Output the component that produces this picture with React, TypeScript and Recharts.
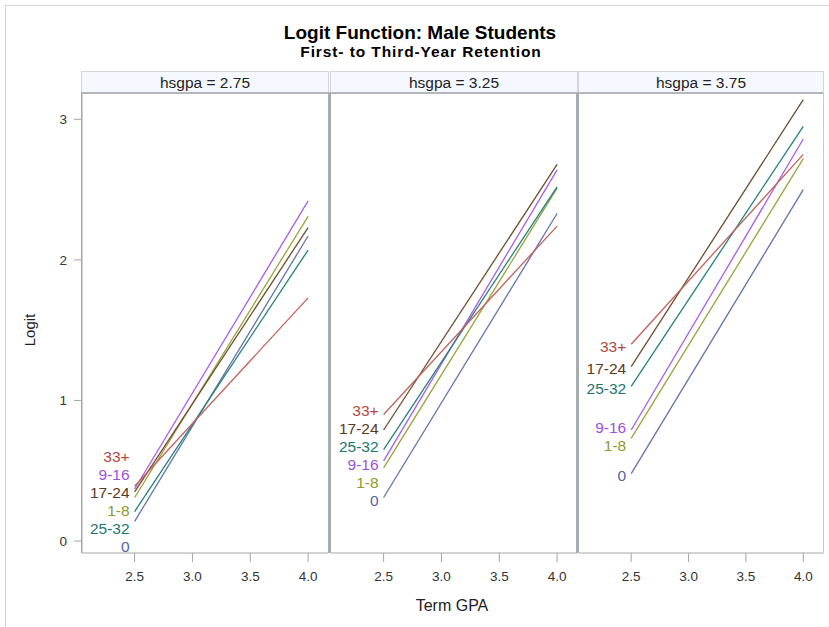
import { ComposedChart, Line, Scatter, XAxis, YAxis } from 'recharts';

// group order: 0, 1-8, 9-16, 17-24, 25-32, 33+
const GROUPS = ['0', '1-8', '9-16', '17-24', '25-32', '33+'];
const LINE_COLORS = ['#6573ad', '#97a33d', '#aa5ce6', '#6e4d2e', '#23807a', '#c2625a'];
const LABEL_COLORS = ['#56659f', '#8c9a2c', '#a04fe0', '#5a3a1c', '#1c7670', '#b4473f'];

const HSGPA = ['2.75', '3.25', '3.75'];
const TERM_GPA = [2.5, 4.0];
const X_TICKS = [2.5, 3.0, 3.5, 4.0];
const Y_TICKS = [0, 1, 2, 3];

const START_275 = [0.14, 0.31, 0.37, 0.35, 0.21, 0.39];
const END_275 = [2.17, 2.31, 2.42, 2.23, 2.07, 1.73];
const START_325 = [0.31, 0.52, 0.57, 0.79, 0.65, 0.9];
const END_325 = [2.33, 2.51, 2.64, 2.68, 2.52, 2.24];
const START_375 = [0.48, 0.73, 0.79, 1.24, 1.1, 1.4];
const END_375 = [2.5, 2.72, 2.86, 3.14, 2.95, 2.75];

const PANELS = [
  { hsgpa: HSGPA[0], start: START_275, end: END_275 },
  { hsgpa: HSGPA[1], start: START_325, end: END_325 },
  { hsgpa: HSGPA[2], start: START_375, end: END_375 },
];

const X_DOMAIN: [number, number] = [2.045, 4.172];
const Y_DOMAIN: [number, number] = [-0.085, 3.187];
const PX_PER_UNIT = 140.5;
const LABEL_GAP = 18 / PX_PER_UNIT;

const FONT = '"Liberation Sans", Arial, sans-serif';

// spread overlapping start labels apart, each cluster centred on its mean
function spreadLabels(values: number[]) {
  const order = values.map((v, i) => i).sort((a, b) => values[b] - values[a]);
  let clusters = order.map((i) => ({ ids: [i], mean: values[i] }));
  let changed = true;
  while (changed) {
    changed = false;
    for (let k = 0; k < clusters.length - 1; k++) {
      const a = clusters[k];
      const b = clusters[k + 1];
      const aBottom = a.mean - ((a.ids.length - 1) * LABEL_GAP) / 2;
      const bTop = b.mean + ((b.ids.length - 1) * LABEL_GAP) / 2;
      if (aBottom - bTop < LABEL_GAP - 1e-9) {
        const ids = [...a.ids, ...b.ids];
        const mean = ids.reduce((s, i) => s + values[i], 0) / ids.length;
        clusters.splice(k, 2, { ids, mean });
        changed = true;
        break;
      }
    }
  }
  const out = new Array(values.length).fill(0);
  clusters.forEach((c) => {
    const top = c.mean + ((c.ids.length - 1) * LABEL_GAP) / 2;
    c.ids.forEach((id, j) => (out[id] = top - j * LABEL_GAP));
  });
  return out;
}

const GroupLabel = (props: any) => {
  const { cx, cy, payload } = props;
  return (
    <text
      x={cx - 5}
      y={cy + 2}
      textAnchor="end"
      dominantBaseline="central"
      fill={payload.color}
      fontSize={15.5}
      fontFamily={FONT}
    >
      {payload.name}
    </text>
  );
};

const PLOT_TOP = 93;
const PLOT_H = 460;
const CHART_H = 627 - PLOT_TOP;
const PANEL_LEFT = [82, 331, 579];
const PANEL_W = [246, 246, 244];

function Panel({ idx }: { idx: number }) {
  const p = PANELS[idx];
  const labelY = spreadLabels(p.start);
  const labels = GROUPS.map((g, i) => ({ x: TERM_GPA[0], y: labelY[i], name: g, color: LABEL_COLORS[i] }));
  const first = idx === 0;
  const left = first ? 0 : PANEL_LEFT[idx];
  const width = first ? PANEL_LEFT[0] + PANEL_W[0] : PANEL_W[idx];
  return (
    <div style={{ position: 'absolute', left, top: PLOT_TOP }}>
      <ComposedChart width={width} height={CHART_H} margin={{ top: 0, right: 0, bottom: 0, left: 0 }}>
        <XAxis
          type="number"
          dataKey="x"
          domain={X_DOMAIN}
          ticks={X_TICKS}
          allowDataOverflow
          height={CHART_H - PLOT_H}
          tickFormatter={(v: number) => v.toFixed(1)}
          tick={{ fontSize: 13.5, fill: '#333', fontFamily: FONT }}
          tickSize={9}
          tickMargin={9}
          stroke="#a3a6aa"
        />
        <YAxis
          type="number"
          dataKey="y"
          domain={Y_DOMAIN}
          ticks={Y_TICKS}
          allowDataOverflow
          hide={!first}
          width={PANEL_LEFT[0]}
          tick={{ fontSize: 13.5, fill: '#333', fontFamily: FONT }}
          tickSize={8}
          tickMargin={7}
          stroke="#a3a6aa"
        />
        {GROUPS.map((g, i) => (
          <Line
            key={g}
            data={[
              { x: TERM_GPA[0], y: p.start[i] },
              { x: TERM_GPA[1], y: p.end[i] },
            ]}
            dataKey="y"
            stroke={LINE_COLORS[i]}
            strokeWidth={1.3}
            dot={false}
            activeDot={false}
            isAnimationActive={false}
          />
        ))}
        <Scatter data={labels} dataKey="y" shape={GroupLabel} isAnimationActive={false} />
      </ComposedChart>
    </div>
  );
}

export default function App() {
  return (
    <div
      style={{
        position: 'absolute',
        left: 0,
        top: 0,
        width: 829,
        height: 627,
        background: '#fff',
        overflow: 'hidden',
        fontFamily: FONT,
      }}
    >
      {/* outer frame */}
      <div style={{ position: 'absolute', left: 5, top: 5, width: 840, height: 640, border: '1px solid #d6d6d6' }} />
      {PANELS.map((p, i) => (
        <div
          key={p.hsgpa}
          style={{
            position: 'absolute',
            left: PANEL_LEFT[i] - 1,
            top: 71,
            width: PANEL_W[i],
            height: 21,
            background: '#f5f8fe',
            border: '1px solid #d3d6d9',
            fontSize: 15.5,
            lineHeight: '21px',
            textAlign: 'center',
            color: '#222',
          }}
        >
          hsgpa = {p.hsgpa}
        </div>
      ))}
      {[0, 1, 2].map((i) => (
        <Panel key={i} idx={i} />
      ))}
      {/* plot frames */}
      <div style={{ position: 'absolute', left: PANEL_LEFT[0] - 1, top: PLOT_TOP - 1, width: 823 - PANEL_LEFT[0] + 1, height: 2, background: '#b3b7bb' }} />
      <div style={{ position: 'absolute', left: PANEL_LEFT[0] - 1, top: PLOT_TOP, width: 1, height: PLOT_H, background: '#a3a6aa' }} />
      <div style={{ position: 'absolute', left: 328, top: PLOT_TOP, width: 3, height: PLOT_H, background: '#a7acb1' }} />
      <div style={{ position: 'absolute', left: 576, top: PLOT_TOP, width: 3, height: PLOT_H, background: '#a7acb1' }} />
      <div style={{ position: 'absolute', left: 823, top: PLOT_TOP, width: 1, height: PLOT_H, background: '#c6c9cc' }} />
      <svg style={{ position: 'absolute', left: 0, top: 0 }} width={829} height={627}>
        <text x={420} y={39} textAnchor="middle" fontSize={19} fontWeight="bold" fill="#000" fontFamily={FONT}>
          Logit Function: Male Students
        </text>
        <text x={421} y={57} textAnchor="middle" fontSize={15.5} fontWeight="bold" fill="#000" fontFamily={FONT} letterSpacing={0.9}>
          First- to Third-Year Retention
        </text>
        <text x={35} y={330} transform="rotate(-90 35 330)" textAnchor="middle" fontSize={15} fill="#222" fontFamily={FONT}>
          Logit
        </text>
        <text x={452} y={611} textAnchor="middle" fontSize={16} fill="#222" fontFamily={FONT}>
          Term GPA
        </text>
      </svg>
    </div>
  );
}
